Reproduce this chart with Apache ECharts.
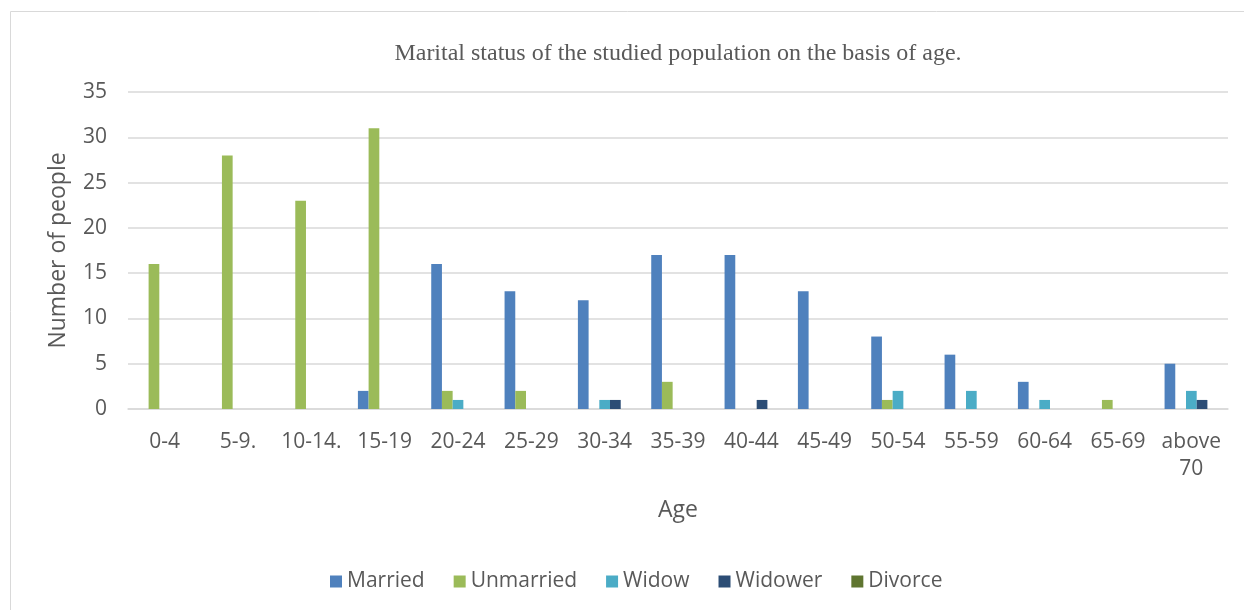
<!DOCTYPE html>
<html><head><meta charset="utf-8">
<script src="https://cdn.jsdelivr.net/npm/echarts@6/dist/echarts.min.js"></script>
<style>html,body{margin:0;padding:0;background:#fff}#c{width:1244px;height:610px}</style>
</head><body><div id="c"></div>
<script>
const categories = ['0-4','5-9.','10-14.','15-19','20-24','25-29','30-34','35-39','40-44','45-49','50-54','55-59','60-64','65-69','above 70'];
const married   = [0,0,0,2,16,13,12,17,17,13,8,6,3,0,5];
const unmarried = [16,28,23,31,2,2,0,3,0,0,1,0,0,1,0];
const widow     = [0,0,0,0,1,0,1,0,0,0,2,2,1,0,2];
const widower   = [0,0,0,0,0,0,1,0,1,0,0,0,0,0,1];
const divorce   = [0,0,0,0,0,0,0,0,0,0,0,0,0,0,0];
const yTicks = [0,5,10,15,20,25,30,35];

const font = '"Open Sans", "Noto Sans", sans-serif';
const txt = '#595959';
function s(name, data, color){
  return {name, type:'bar', data, barGap:'0%', barCategoryGap:'27%',
    itemStyle:{color, borderWidth:0}};
}
const chart = echarts.init(document.getElementById('c'), null, {renderer:'canvas'});
chart.setOption({
  animation:false,
  graphic:[{type:'rect', shape:{x:10.5,y:11.5,width:1240,height:610}, style:{fill:'none', stroke:'#d9d9d9', lineWidth:1}, silent:true}],
  title:{text:'Marital status of the studied population on the basis of age.', left:673, textAlign:'center', top:37,
    textStyle:{fontFamily:'"Liberation Serif","Times New Roman",serif', fontWeight:'normal', fontSize:24, color:txt}},
  grid:{left:128, right:16, top:92, bottom:201, containLabel:false},
  legend:{bottom:13, left:325, itemWidth:12, itemHeight:12, itemGap:29, icon:'rect',
    textStyle:{fontFamily:font, fontSize:21, color:txt, padding:[0,0,0,0]},
    data:['Married','Unmarried','Widow','Widower','Divorce']},
  xAxis:{type:'category', data:categories, name:'Age', nameLocation:'middle', nameGap:90,
    nameTextStyle:{fontFamily:font, fontSize:23, color:txt},
    axisLine:{lineStyle:{color:'#d9d9d9', width:1.5}}, axisTick:{show:false},
    axisLabel:{fontFamily:font, fontSize:21, color:txt, margin:20, lineHeight:27, interval:0,
      formatter:v=>v.replace(' ','\n')}},
  yAxis:{type:'value', min:0, max:35, interval:5, name:'Number of people', nameLocation:'middle', nameGap:58, nameRotate:90,
    nameTextStyle:{fontFamily:font, fontSize:23, color:txt},
    axisLine:{show:false}, axisTick:{show:false},
    axisLabel:{fontFamily:font, fontSize:21, color:txt, margin:21, formatter:v=>yTicks.includes(v)?String(v):''},
    splitLine:{lineStyle:{color:'#d9d9d9', width:1.5}}},
  series:[
    s('Married', married, '#4F81BD'),
    s('Unmarried', unmarried, '#9BBB59'),
    s('Widow', widow, '#4BACC6'),
    s('Widower', widower, '#2C4D75'),
    s('Divorce', divorce, '#5F7530')
  ]
});
</script></body></html>
